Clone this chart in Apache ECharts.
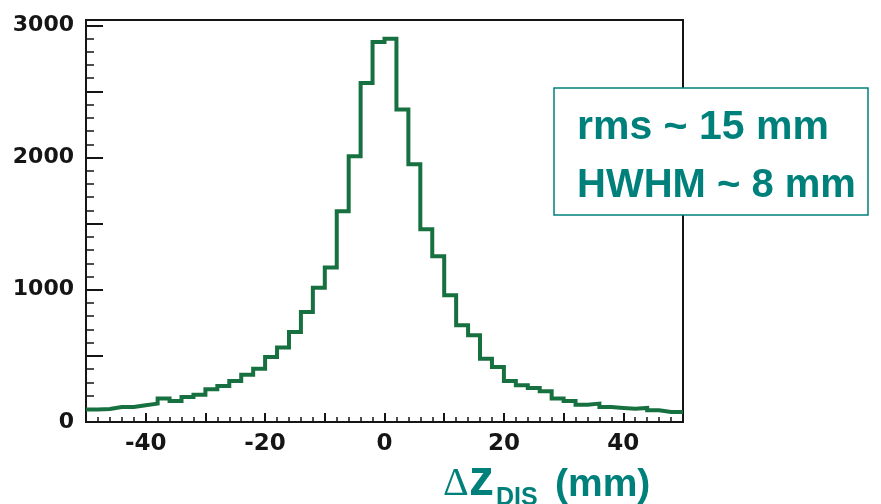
<!DOCTYPE html>
<html>
<head>
<meta charset="utf-8">
<script src="https://cdn.jsdelivr.net/npm/echarts@6/dist/echarts.min.js"></script>
<style>
  html, body { margin: 0; padding: 0; background: #fff; }
  #chart { width: 881px; height: 504px; }
</style>
</head>
<body>
<div id="chart"></div>
<script>
// Histogram of Δz_DIS: 50 bins of 2 mm from -50 mm to +50 mm
const binLow = -50;
const binWidth = 2;
const counts = [
  94, 99, 114, 114, 126, 139, 177, 159, 189, 207,
  247, 272, 310, 358, 403, 492, 563, 681, 832, 1016,
  1168, 1593, 2009, 2564, 2874, 2899, 2363, 1949, 1457, 1253,
  958, 731, 656, 479, 416, 310, 277, 257, 232, 177,
  159, 131, 139, 113, 106, 101, 106, 88, 76, 76
];
const xTickLabels = [-40, -20, 0, 20, 40];
const yTickLabels = [0, 1000, 2000, 3000];
const infoLines = ['rms ~ 15 mm', 'HWHM ~ 8 mm'];

const histColor = '#17703f';
const teal = '#00807a';
const ink = '#151515';

// step outline: one point per bin low edge, plus the closing upper edge
const stepData = counts.map((c, i) => [binLow + i * binWidth, c]);
stepData.push([binLow + counts.length * binWidth, counts[counts.length - 1]]);

const labelFont = { fontFamily: '"DejaVu Sans", sans-serif', fontWeight: 'bold', color: ink };

const chart = echarts.init(document.getElementById('chart'), null, { renderer: 'canvas' });
chart.setOption({
  animation: false,
  backgroundColor: '#fff',
  grid: {
    left: 86, top: 20, width: 597, height: 402,
    show: true, borderColor: ink, borderWidth: 2, backgroundColor: 'transparent'
  },
  xAxis: [
    {
      type: 'value', min: -50, max: 50, interval: 10, position: 'bottom',
      axisLine: { show: true, onZero: false, lineStyle: { color: ink, width: 2 } },
      axisTick: { inside: true, length: 9, lineStyle: { color: ink, width: 2 } },
      axisLabel: Object.assign({
        margin: 11, fontSize: 23,
        formatter: v => xTickLabels.includes(v) ? String(v) : ''
      }, labelFont),
      splitLine: { show: false }
    },
    {
      type: 'value', min: -50, max: 50, interval: 2, position: 'bottom',
      axisLine: { show: false, onZero: false },
      axisTick: { inside: true, length: 5, lineStyle: { color: ink, width: 1.5 } },
      axisLabel: { show: false },
      splitLine: { show: false }
    }
  ],
  yAxis: [
    {
      type: 'value', min: 0, max: 3040, interval: 500, position: 'left',
      axisLine: { show: true, onZero: false, lineStyle: { color: ink, width: 2 } },
      axisTick: { inside: true, length: 17, lineStyle: { color: ink, width: 2 } },
      axisLabel: Object.assign({
        margin: 12, fontSize: 22,
        formatter: v => yTickLabels.includes(v) ? String(v) : ''
      }, labelFont),
      splitLine: { show: false }
    },
    {
      type: 'value', min: 0, max: 3040, interval: 100, position: 'left',
      axisLine: { show: false, onZero: false },
      axisTick: { inside: true, length: 8, lineStyle: { color: ink, width: 1.5 } },
      axisLabel: { show: false },
      splitLine: { show: false }
    }
  ],
  series: [{
    type: 'line',
    xAxisIndex: 0, yAxisIndex: 0,
    step: 'end',
    data: stepData,
    symbol: 'none',
    silent: true,
    lineStyle: { color: histColor, width: 4, join: 'miter' },
    z: 3
  }],
  graphic: [
    {
      type: 'rect', z: 100,
      shape: { x: 554, y: 88, width: 314, height: 127 },
      style: { fill: '#fff', stroke: teal, lineWidth: 1.5 }
    },
    {
      type: 'text', z: 101,
      style: { text: infoLines[0], x: 577, y: 128, fill: teal,
        font: 'bold 41px "Liberation Sans", Arial, sans-serif',
        align: 'left', verticalAlign: 'middle', textAlign: 'left', textVerticalAlign: 'middle' }
    },
    {
      type: 'text', z: 101,
      style: { text: infoLines[1], x: 577, y: 186, fill: teal,
        font: 'bold 40px "Liberation Sans", Arial, sans-serif',
        align: 'left', verticalAlign: 'middle', textAlign: 'left', textVerticalAlign: 'middle' }
    },
    // axis title: Δz_DIS (mm)
    {
      type: 'text', z: 101,
      style: { text: 'Δ', x: 443, y: 484, fill: teal,
        font: '40px "Liberation Serif", serif',
        align: 'left', verticalAlign: 'middle', textAlign: 'left', textVerticalAlign: 'middle' }
    },
    {
      type: 'text', z: 101,
      style: { text: 'z', x: 469, y: 481, fill: teal,
        font: 'bold 50px "Liberation Sans", Arial, sans-serif',
        align: 'left', verticalAlign: 'middle', textAlign: 'left', textVerticalAlign: 'middle' }
    },
    {
      type: 'text', z: 101,
      style: { text: 'DIS', x: 496, y: 498, fill: teal,
        font: 'bold 25px "Liberation Sans", Arial, sans-serif',
        align: 'left', verticalAlign: 'middle', textAlign: 'left', textVerticalAlign: 'middle' }
    },
    {
      type: 'text', z: 101,
      style: { text: '(mm)', x: 555, y: 485, fill: teal,
        font: 'bold 39px "Liberation Sans", Arial, sans-serif',
        align: 'left', verticalAlign: 'middle', textAlign: 'left', textVerticalAlign: 'middle' }
    }
  ]
});
</script>
</body>
</html>
